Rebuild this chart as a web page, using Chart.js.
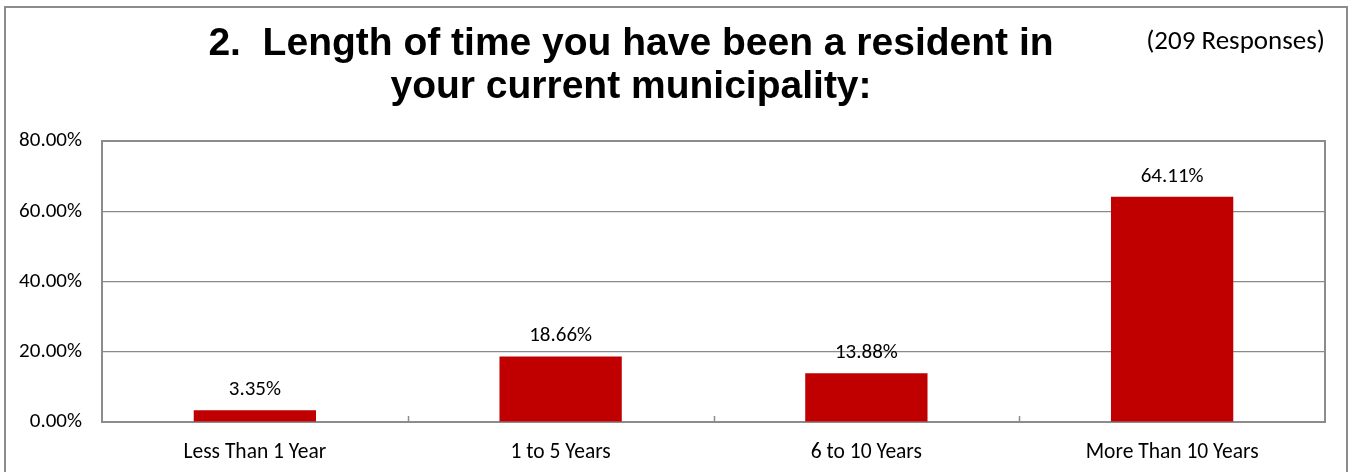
<!DOCTYPE html>
<html>
<head>
<meta charset="utf-8">
<title>Length of time as resident</title>
<script src="https://cdn.jsdelivr.net/npm/chart.js@4/dist/chart.umd.min.js"></script>
<style>
  html, body { margin: 0; padding: 0; background: #fff; }
  #wrap { width: 1350px; height: 472px; }
</style>
</head>
<body>
<div id="wrap"><canvas id="residentChart" width="1350" height="472"></canvas></div>
<script>
const categories = ["Less Than 1 Year", "1 to 5 Years", "6 to 10 Years", "More Than 10 Years"];
const percentages = [3.35, 18.66, 13.88, 64.11];
const yTicks = [0, 20, 40, 60, 80];
const titleLines = ["2.  Length of time you have been a resident in", "your current municipality:"];
const responseNote = "(209 Responses)";

const bodyFont = "Carlito, Lato, sans-serif";
const frameColor = "#8c8c8c";
const gridColor = "#8a8a8a";
const barColor = "#c00000";

// Title, response count, outer frame, plot frame, category ticks and value labels
const decorations = {
  id: "decorations",
  afterDraw(chart) {
    const ctx = chart.ctx;
    const area = chart.chartArea;
    const x = chart.scales.x;
    ctx.save();

    // outer box (runs past the bottom edge)
    ctx.strokeStyle = frameColor;
    ctx.lineWidth = 2;
    ctx.strokeRect(5, 7, 1342, 480);

    // plot frame: top and right sides
    ctx.beginPath();
    ctx.moveTo(area.left, area.top);
    ctx.lineTo(area.right, area.top);
    ctx.lineTo(area.right, area.bottom);
    ctx.stroke();

    // small ticks between categories
    ctx.lineWidth = 1.5;
    ctx.strokeStyle = frameColor;
    for (let i = 0; i < categories.length - 1; i++) {
      const px = Math.round((x.getPixelForValue(i) + x.getPixelForValue(i + 1)) / 2) + 0.5;
      ctx.beginPath();
      ctx.moveTo(px, area.bottom);
      ctx.lineTo(px, area.bottom - 6);
      ctx.stroke();
    }

    // value labels above bars
    ctx.fillStyle = "#000";
    ctx.font = "21px " + bodyFont;
    ctx.textAlign = "center";
    ctx.textBaseline = "alphabetic";
    chart.getDatasetMeta(0).data.forEach((bar, i) => {
      ctx.fillText(percentages[i].toFixed(2) + "%", bar.x, bar.y - 15);
    });

    // title
    ctx.font = "bold 39px 'Liberation Sans', Arial, sans-serif";
    ctx.fillText(titleLines[0], 631, 55);
    ctx.fillText(titleLines[1], 631, 98);

    // response count
    ctx.font = "27px " + bodyFont;
    ctx.textAlign = "right";
    ctx.fillText(responseNote, 1325, 49);

    ctx.restore();
  }
};

new Chart(document.getElementById("residentChart"), {
  type: "bar",
  data: {
    labels: categories,
    datasets: [{
      data: percentages,
      backgroundColor: barColor,
      borderWidth: 0,
      categoryPercentage: 1,
      barPercentage: 0.4
    }]
  },
  options: {
    responsive: false,
    animation: false,
    devicePixelRatio: 1,
    layout: { padding: { top: 141, right: 25, left: 0, bottom: 0 } },
    plugins: {
      legend: { display: false },
      title: { display: false },
      tooltip: { enabled: false }
    },
    scales: {
      y: {
        min: yTicks[0],
        max: yTicks[yTicks.length - 1],
        afterBuildTicks: (scale) => { scale.ticks = yTicks.map(v => ({ value: v })); },
        afterFit: (scale) => { scale.width = 102; },
        ticks: {
          color: "#000",
          font: { family: bodyFont, size: 21 },
          padding: 20,
          callback: (v) => v.toFixed(2) + "%"
        },
        grid: { color: gridColor, lineWidth: 1.2, drawTicks: false },
        border: { display: true, color: frameColor, width: 2 }
      },
      x: {
        afterFit: (scale) => { scale.height = 50; },
        ticks: {
          color: "#000",
          font: { family: bodyFont, size: 21.5 },
          padding: 18,
          maxRotation: 0
        },
        grid: { display: false, drawTicks: false },
        border: { display: true, color: frameColor, width: 2 }
      }
    }
  },
  plugins: [decorations]
});
</script>
</body>
</html>
